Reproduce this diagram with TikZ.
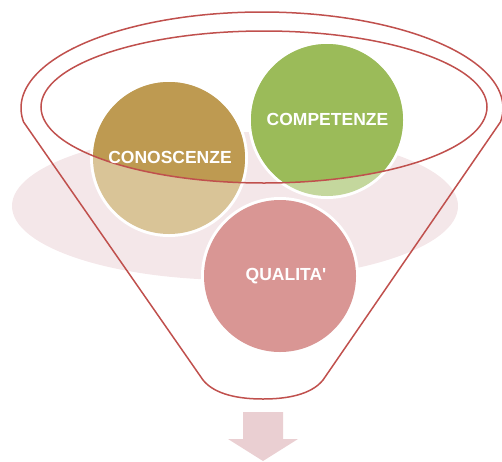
\documentclass[tikz,border=0pt]{standalone}
\usepackage{fontspec}
\setmainfont{Liberation Sans}
\begin{document}
\begin{tikzpicture}[x=1pt,y=-1pt,
  funnelline/.style={draw=funnelred, line width=1.5pt},
  ballring/.style={fill=white},
  balllabel/.style={text=white, font=\bfseries\fontsize{17.5}{20}\selectfont, anchor=base, inner sep=0pt}]
\definecolor{funnelred}{HTML}{C0504D}
\definecolor{haze}{HTML}{F4E7E9}
\definecolor{tandark}{HTML}{BE9A51}
\definecolor{tanlight}{HTML}{D9C497}
\definecolor{greendark}{HTML}{9BBB59}
\definecolor{greenlight}{HTML}{C4D79D}
\definecolor{rose}{HTML}{D99694}
\definecolor{arrowpink}{HTML}{EACFD2}

\useasboundingbox (0,0) rectangle (502,461);

% soft backdrop ellipse
\fill[haze] (235,206) ellipse [x radius=223pt, y radius=74pt];

% two balls sitting in the funnel mouth (lower part seen through the funnel wall)
\coordinate (cA) at (169,158);
\coordinate (cB) at (327,120);
\coordinate (cC) at (280,276);
\fill[ballring] (cA) circle [radius=79pt];
\fill[tanlight] (cA) circle [radius=76pt];
\fill[ballring] (cB) circle [radius=79pt];
\fill[greenlight] (cB) circle [radius=76pt];
\begin{scope}
  \clip (264,107) ellipse [x radius=223pt, y radius=76pt];
  \fill[tandark] (cA) circle [radius=76pt];
  \fill[greendark] (cB) circle [radius=76pt];
\end{scope}

% ball inside the funnel body
\fill[ballring] (cC) circle [radius=79pt];
\fill[rose] (cC) circle [radius=76pt];

% funnel outline
\draw[funnelline] plot[domain=171.6:368.4, samples=120] ({262+241*cos(\x)},{108+96*sin(\x)})
  -- (323,380) .. controls (311,395) and (286,399) .. (263,399)
  .. controls (240,399) and (215,395) .. (203,380) -- cycle;
\draw[funnelline] (264,107) ellipse [x radius=223pt, y radius=76pt];

% labels
\node[balllabel] (lA) at (170,163) {CONOSCENZE};
\node[balllabel] (lB) at (327.5,125) {COMPETENZE};
\node[balllabel] (lC) at (286,280) {QUALITA\textquotesingle};

% output arrow
\fill[arrowpink] (243,412) -- (283,412) -- (283,439) -- (298,439) -- (263,461)
  -- (228,439) -- (243,439) -- cycle;
\end{tikzpicture}
\end{document}
